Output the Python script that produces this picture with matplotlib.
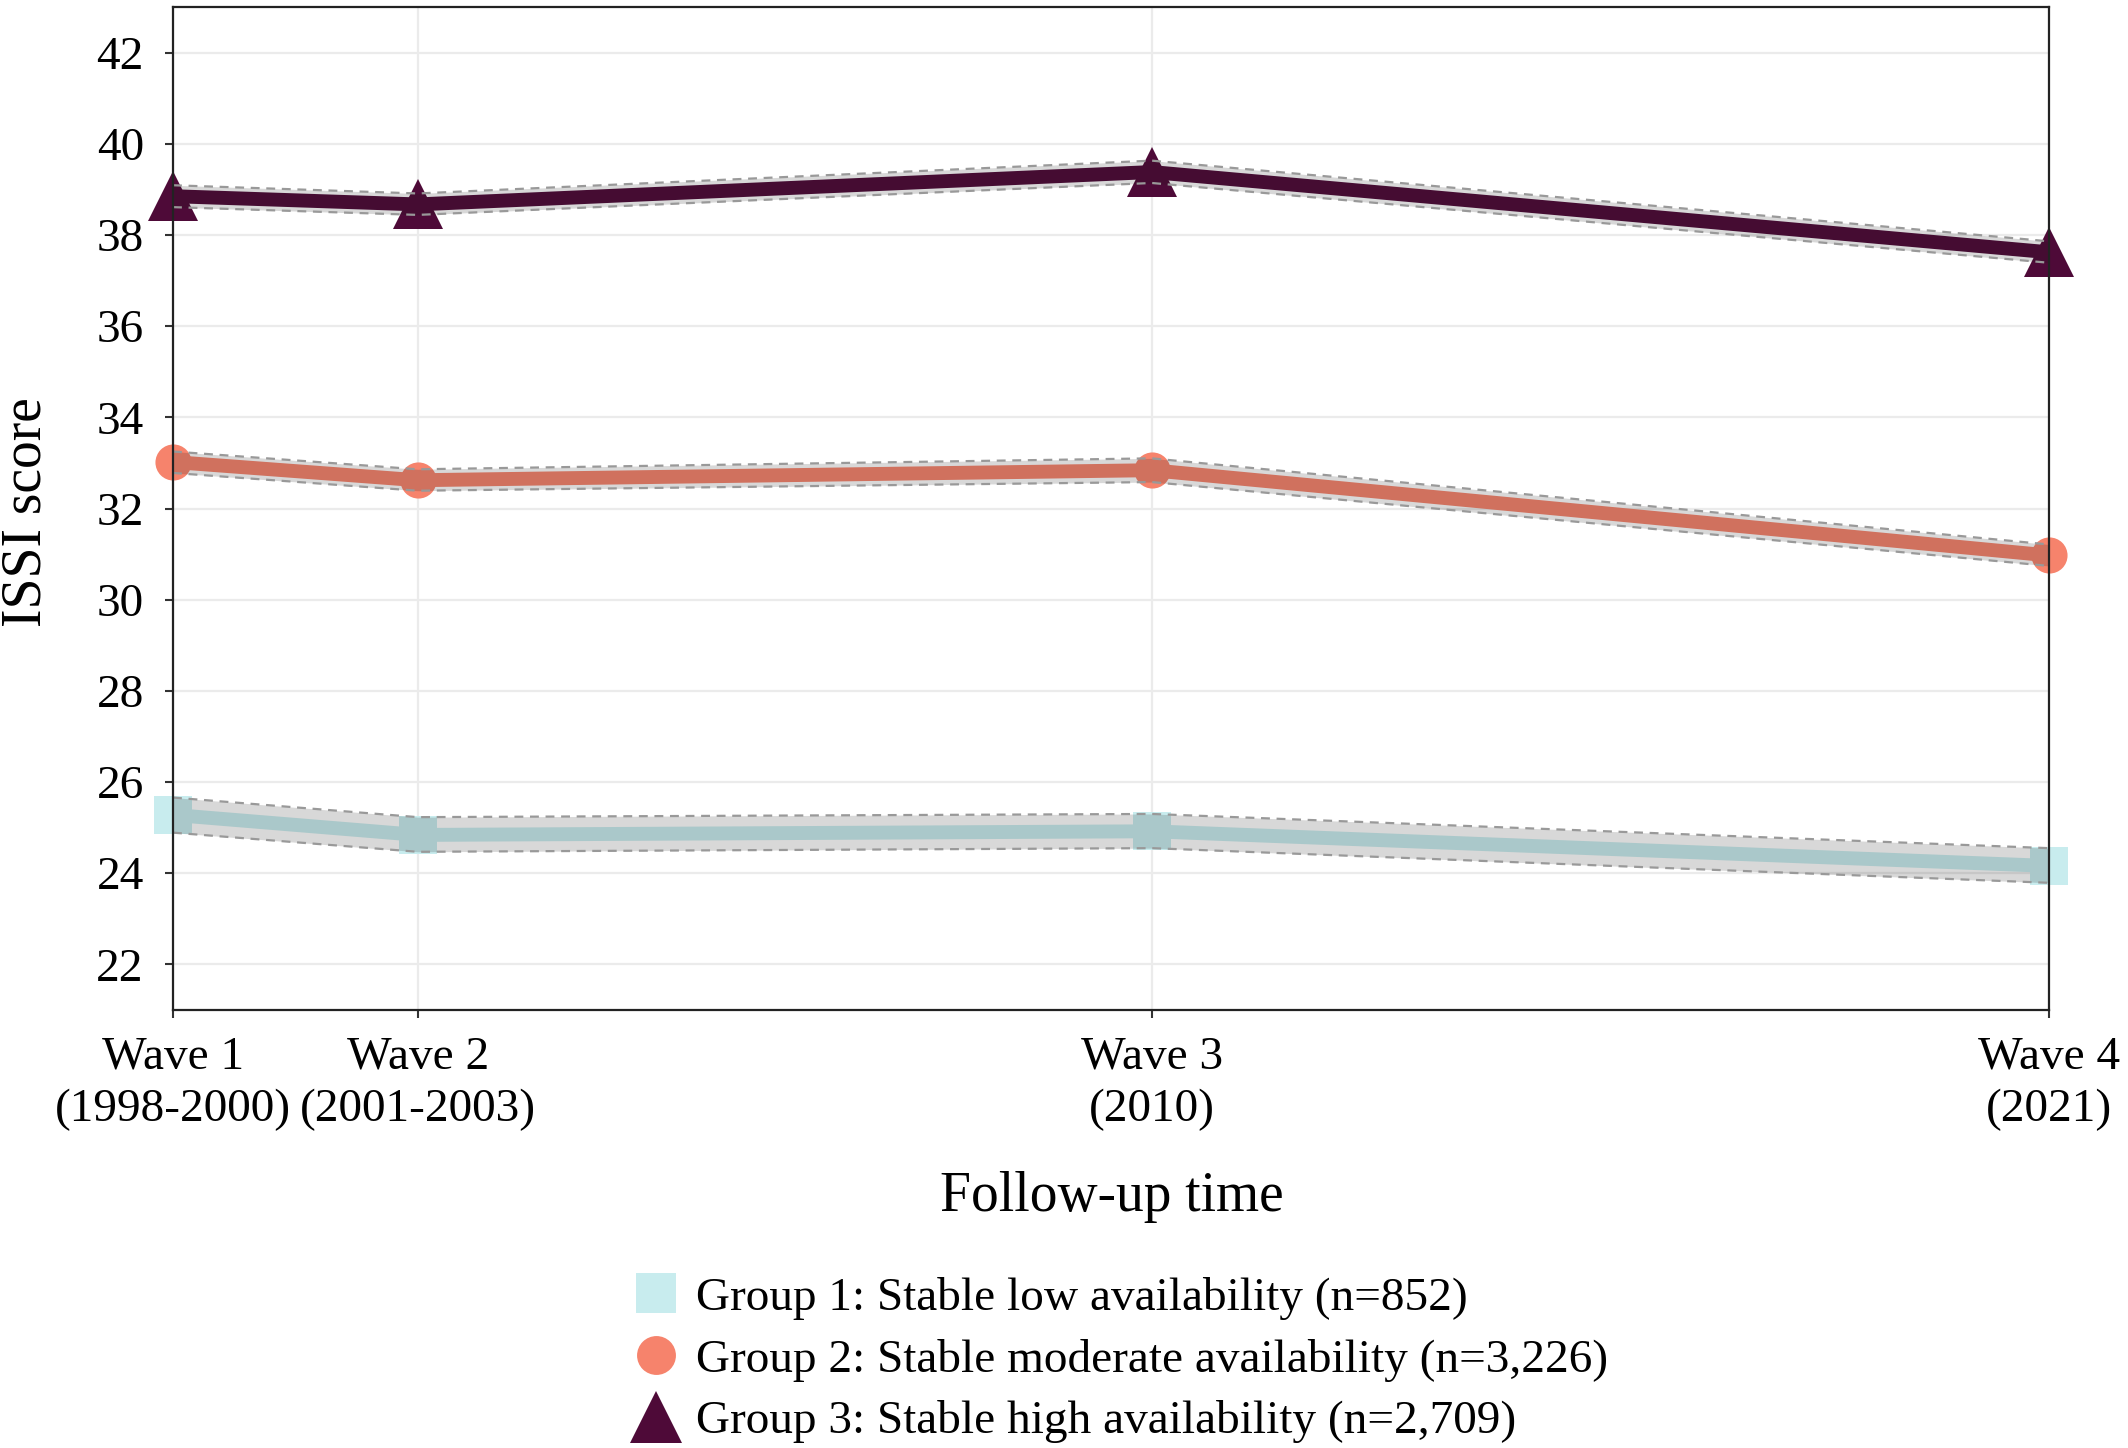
import matplotlib
matplotlib.use("Agg")
import matplotlib.pyplot as plt
from matplotlib.lines import Line2D

plt.rcParams['font.family'] = ['Liberation Serif', 'DejaVu Serif']

# ---- data ----
wave_x = [0, 3, 12, 23]
wave_labels = ["Wave 1\n(1998-2000)", "Wave 2\n(2001-2003)", "Wave 3\n(2010)", "Wave 4\n(2021)"]
y_ticks = [22, 24, 26, 28, 30, 32, 34, 36, 38, 40, 42]

g1_mean = [25.28, 24.84, 24.92, 24.16]
g1_low = [24.89, 24.47, 24.55, 23.79]
g1_high = [25.66, 25.23, 25.30, 24.55]

g2_mean = [33.02, 32.62, 32.84, 30.97]
g2_low = [32.78, 32.39, 32.58, 30.74]
g2_high = [33.25, 32.86, 33.10, 31.21]

g3_mean = [38.85, 38.67, 39.38, 37.62]
g3_low = [38.61, 38.44, 39.14, 37.39]
g3_high = [39.09, 38.91, 39.63, 37.86]

labels = ["Group 1: Stable low availability (n=852)",
          "Group 2: Stable moderate availability (n=3,226)",
          "Group 3: Stable high availability (n=2,709)"]
colors = ["#c8ecee", "#f6836c", "#4e0a38"]
markers = ["s", "o", "^"]
msizes = [27, 26, 36]

fig = plt.figure(figsize=(21.28, 14.48), dpi=100)
ax = fig.add_axes([173/2128, 1 - 1010/1448, (2049-173)/2128, (1010-7)/1448])

series = [(g1_mean, g1_low, g1_high), (g2_mean, g2_low, g2_high), (g3_mean, g3_low, g3_high)]
for (m, lo, hi), c, mk, ms in zip(series, colors, markers, msizes):
    ax.plot(wave_x, m, linestyle='none', marker=mk, markersize=ms, color=c,
            markeredgewidth=0, zorder=1.5, clip_on=False)
    ax.plot(wave_x, m, color=c, linewidth=10, solid_capstyle='butt', zorder=1.6)
    ax.fill_between(wave_x, lo, hi, color='#1a1a1a', alpha=0.17, linewidth=0, zorder=1.7)
    ax.plot(wave_x, lo, color='#999999', linewidth=1.6, linestyle=(0, (4, 3)), zorder=1.8)
    ax.plot(wave_x, hi, color='#999999', linewidth=1.6, linestyle=(0, (4, 3)), zorder=1.8)

ax.set_xlim(wave_x[0], wave_x[-1])
ax.set_ylim(21, 43)
ax.set_yticks(y_ticks)
ax.set_xticks(wave_x)
ax.set_xticklabels(wave_labels, linespacing=1.3)
ax.tick_params(axis='both', labelsize=34, length=6, width=1.5, color='#333333', labelcolor='black')
ax.tick_params(axis='y', pad=15)
ax.tick_params(axis='x', pad=13)
ax.grid(True, color='#ebebeb', linewidth=1.6)
ax.set_axisbelow(True)
for s in ax.spines.values():
    s.set_color('#222222')
    s.set_linewidth(1.6)

fig.text(1112/2128, 1 - 1197/1448, "Follow-up time", fontsize=40, ha='center', va='center')
fig.text(27/2128, 1 - 512/1448, "ISSI score", fontsize=40, ha='center', va='center', rotation=90)

handles = [Line2D([], [], linestyle='none', marker=mk, markersize=ms, color=c, markeredgewidth=0)
           for c, mk, ms in zip(colors, markers, [29, 28, 37])]
leg = fig.legend(handles, labels, loc='center', bbox_to_anchor=(1120/2128, 1 - 1360/1448),
                 frameon=False, fontsize=34, handlelength=1.0, handletextpad=0.35,
                 labelspacing=0.40, borderpad=0, borderaxespad=0)

fig.savefig("out.png", dpi=100)
